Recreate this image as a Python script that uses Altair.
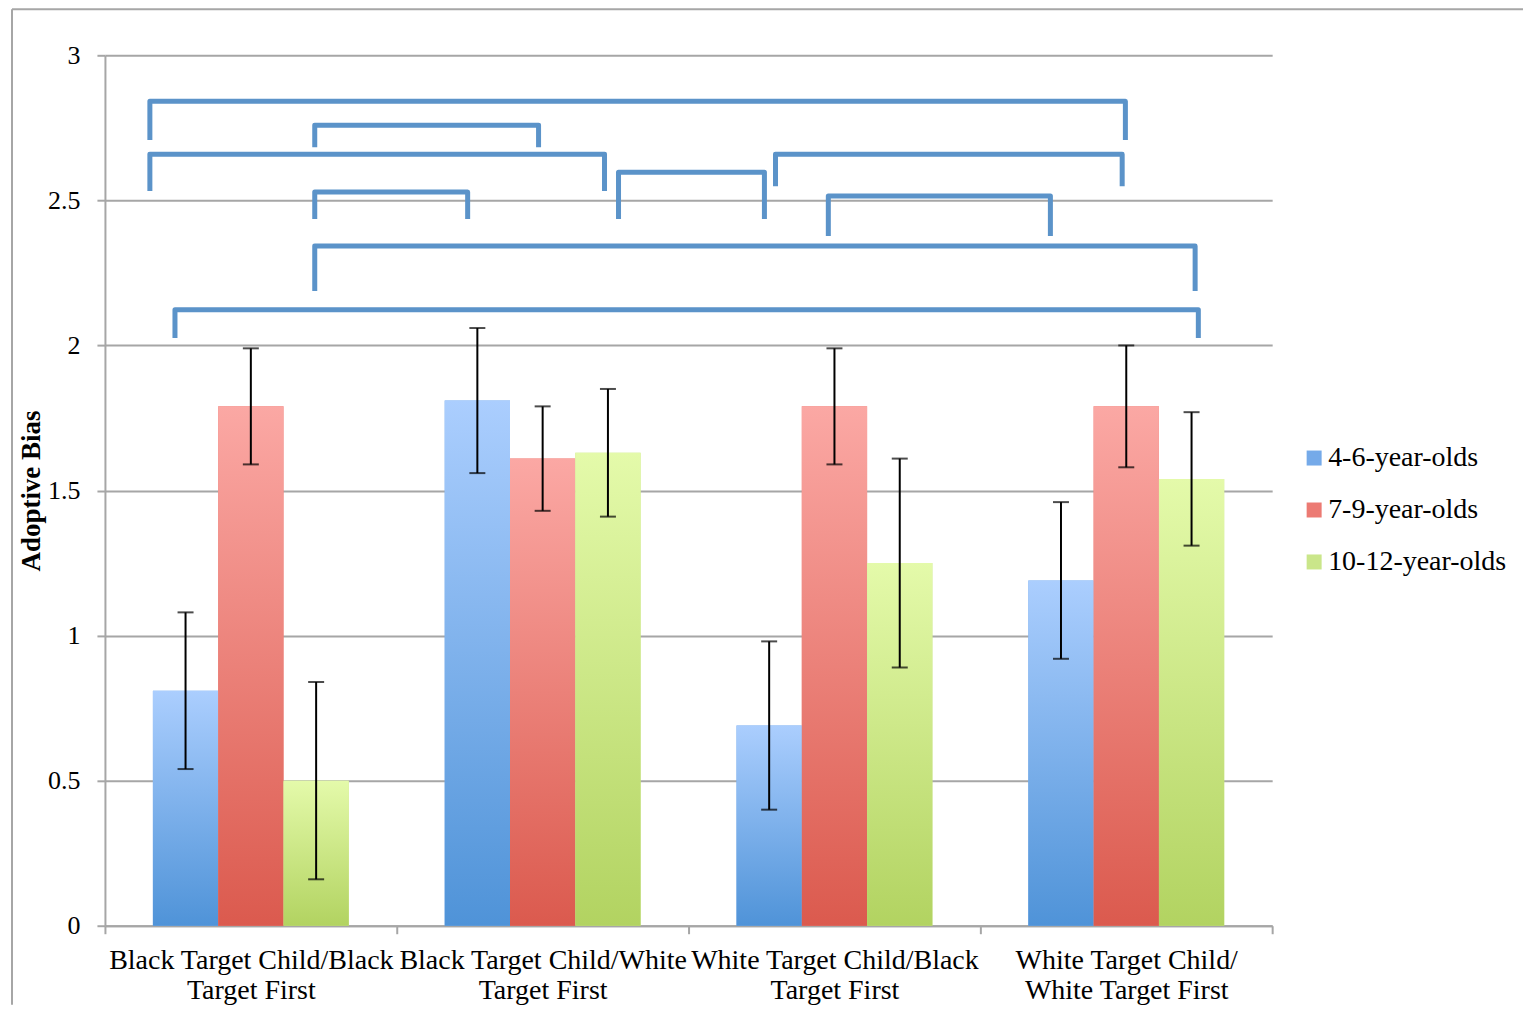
import altair as alt
import pandas as pd

# ---------------- data ----------------
CATEGORIES = [
    "Black Target Child/Black\nTarget First",
    "Black Target Child/White\nTarget First",
    "White Target Child/Black\nTarget First",
    "White Target Child/\nWhite Target First",
]
SERIES = ["4-6-year-olds", "7-9-year-olds", "10-12-year-olds"]

MEAN_4_6 = [0.81, 1.81, 0.69, 1.19]
MEAN_7_9 = [1.79, 1.61, 1.79, 1.79]
MEAN_10_12 = [0.50, 1.63, 1.25, 1.54]

LOW_4_6 = [0.54, 1.56, 0.40, 0.92]
HIGH_4_6 = [1.08, 2.06, 0.98, 1.46]
LOW_7_9 = [1.59, 1.43, 1.59, 1.58]
HIGH_7_9 = [1.99, 1.79, 1.99, 2.00]
LOW_10_12 = [0.16, 1.41, 0.89, 1.31]
HIGH_10_12 = [0.84, 1.85, 1.61, 1.77]

Y_TICKS = [0, 0.5, 1, 1.5, 2, 2.5, 3]

# significance brackets (x in category-group units 0..4, y in data units)
BRACKET_LEFT = [0.154, 0.719, 0.154, 0.719, 1.760, 2.298, 2.479, 0.719, 0.240]
BRACKET_RIGHT = [3.497, 1.486, 1.712, 1.243, 2.260, 3.486, 3.240, 3.736, 3.747]
BRACKET_TOP = [2.842, 2.759, 2.659, 2.529, 2.597, 2.659, 2.515, 2.343, 2.123]
BRACKET_BOTTOM = [2.708, 2.683, 2.532, 2.436, 2.436, 2.549, 2.377, 2.188, 2.026]

# ---------------- tables ----------------
rows = []
for s, means, lows, highs in [
    (SERIES[0], MEAN_4_6, LOW_4_6, HIGH_4_6),
    (SERIES[1], MEAN_7_9, LOW_7_9, HIGH_7_9),
    (SERIES[2], MEAN_10_12, LOW_10_12, HIGH_10_12),
]:
    for c, m, lo, hi in zip(CATEGORIES, means, lows, highs):
        rows.append({"category": c, "series": s, "mean": m, "low": lo, "high": hi})
df = pd.DataFrame(rows)

cap_rows = []
for r in rows:
    cap_rows.append({"category": r["category"], "series": r["series"], "cap": r["low"]})
    cap_rows.append({"category": r["category"], "series": r["series"], "cap": r["high"]})
caps_df = pd.DataFrame(cap_rows)

br_rows = []
for i, (l, r, t, b) in enumerate(zip(BRACKET_LEFT, BRACKET_RIGHT, BRACKET_TOP, BRACKET_BOTTOM)):
    br_rows += [
        {"id": i, "k": 0, "bx": l, "by": b},
        {"id": i, "k": 1, "bx": l, "by": t},
        {"id": i, "k": 2, "bx": r, "by": t},
        {"id": i, "k": 3, "bx": r, "by": b},
    ]
br_df = pd.DataFrame(br_rows)

# ---------------- styles ----------------
FONT = "Liberation Serif"
GREY = "#a6a6a6"
GRADIENTS = {
    SERIES[0]: ("#abcefe", "#4f93d8"),
    SERIES[1]: ("#fba8a4", "#db5a4e"),
    SERIES[2]: ("#e4faaa", "#b2d361"),
}
LEGEND_COLORS = ["#75aae9", "#ec7a73", "#cae68a"]

x_enc = alt.X(
    "category:N",
    sort=CATEGORIES,
    scale=alt.Scale(domain=CATEGORIES, paddingInner=0, paddingOuter=0),
    axis=alt.Axis(
        title=None,
        labelExpr="split(datum.label, '\\n')",
        labelFont=FONT,
        labelFontSize=28,
        labelLineHeight=30,
        labelPadding=13,
        labelLimit=0,
        labelOverlap=False,
        labelAngle=0,
        labelColor="black",
        tickBand="extent",
        tickSize=8,
        tickColor=GREY,
        tickWidth=2,
        domainColor=GREY,
        domainWidth=2,
        grid=False,
    ),
)
xoff_enc = alt.XOffset(
    "series:N",
    sort=SERIES,
    scale=alt.Scale(domain=SERIES, paddingInner=0, paddingOuter=0.7346),
)
y_scale = alt.Scale(domain=[0, 3], nice=False, zero=True)
y_enc = alt.Y(
    "mean:Q",
    scale=y_scale,
    axis=alt.Axis(
        values=Y_TICKS,
        format="~g",
        title="Adoptive Bias",
        titleFont=FONT,
        titleFontSize=27,
        titleFontWeight="bold",
        titleColor="black",
        titlePadding=2,
        labelFont=FONT,
        labelFontSize=26,
        labelColor="black",
        labelPadding=17,
        tickSize=8,
        tickColor=GREY,
        tickWidth=2,
        domainColor=GREY,
        domainWidth=2,
        grid=True,
        gridColor=GREY,
        gridWidth=2,
    ),
)

base = alt.Chart(df).mark_bar().encode(
    x=x_enc,
    xOffset=xoff_enc,
    y=y_enc,
    color=alt.Color(
        "series:N",
        sort=SERIES,
        scale=alt.Scale(domain=SERIES, range=LEGEND_COLORS),
        legend=alt.Legend(
            title=None,
            orient="none",
            legendX=1196,
            legendY=389,
            symbolType="square",
            symbolSize=225,
            symbolStrokeWidth=0,
            labelFont=FONT,
            labelFontSize=28,
            labelColor="black",
            labelLimit=0,
            labelOffset=0,
            rowPadding=24,
            padding=0,
        ),
    ),
)

grad_layers = []
for s in SERIES:
    top, bottom = GRADIENTS[s]
    grad_layers.append(
        alt.Chart(df)
        .transform_filter(alt.datum.series == s)
        .mark_bar(
            color=alt.Gradient(
                gradient="linear",
                stops=[
                    alt.GradientStop(color=top, offset=0),
                    alt.GradientStop(color=bottom, offset=1),
                ],
                x1=0, x2=0, y1=0, y2=1,
            )
        )
        .encode(x=x_enc, xOffset=xoff_enc, y=y_enc)
    )

err = alt.Chart(df).mark_rule(color="black", strokeWidth=2).encode(
    x=x_enc,
    xOffset=xoff_enc,
    y=alt.Y("low:Q", scale=y_scale),
    y2="high:Q",
)
caps = alt.Chart(caps_df).mark_tick(color="black", thickness=2, size=16).encode(
    x=x_enc,
    xOffset=xoff_enc,
    y=alt.Y("cap:Q", scale=y_scale),
)

bars = alt.layer(base, *grad_layers, err, caps)

brackets = alt.Chart(br_df).mark_line(
    color="#5b93c9", strokeWidth=5, strokeJoin="round", strokeCap="butt"
).encode(
    x=alt.X("bx:Q", scale=alt.Scale(domain=[0, 4], nice=False, zero=False), axis=None),
    y=alt.Y("by:Q", scale=y_scale),
    detail="id:N",
    order="k:Q",
)

one = pd.DataFrame({"a": [0]})
frame_left = alt.Chart(one).mark_rule(color=GREY, strokeWidth=2).encode(
    x=alt.value(-93), y=alt.value(-46), y2=alt.value(950)
)
frame_top = alt.Chart(one).mark_rule(color=GREY, strokeWidth=2).encode(
    x=alt.value(-93), x2=alt.value(1419), y=alt.value(-46)
)

chart = (
    alt.layer(bars, brackets, frame_left, frame_top)
    .resolve_scale(x="independent")
    .properties(
        width=1168,
        height=871,
        padding={"left": 3, "top": 0, "right": 0, "bottom": 0},
    )
    .configure_view(stroke=None)
)

chart.save("out.html", embed_options={"renderer": "svg", "actions": False})
